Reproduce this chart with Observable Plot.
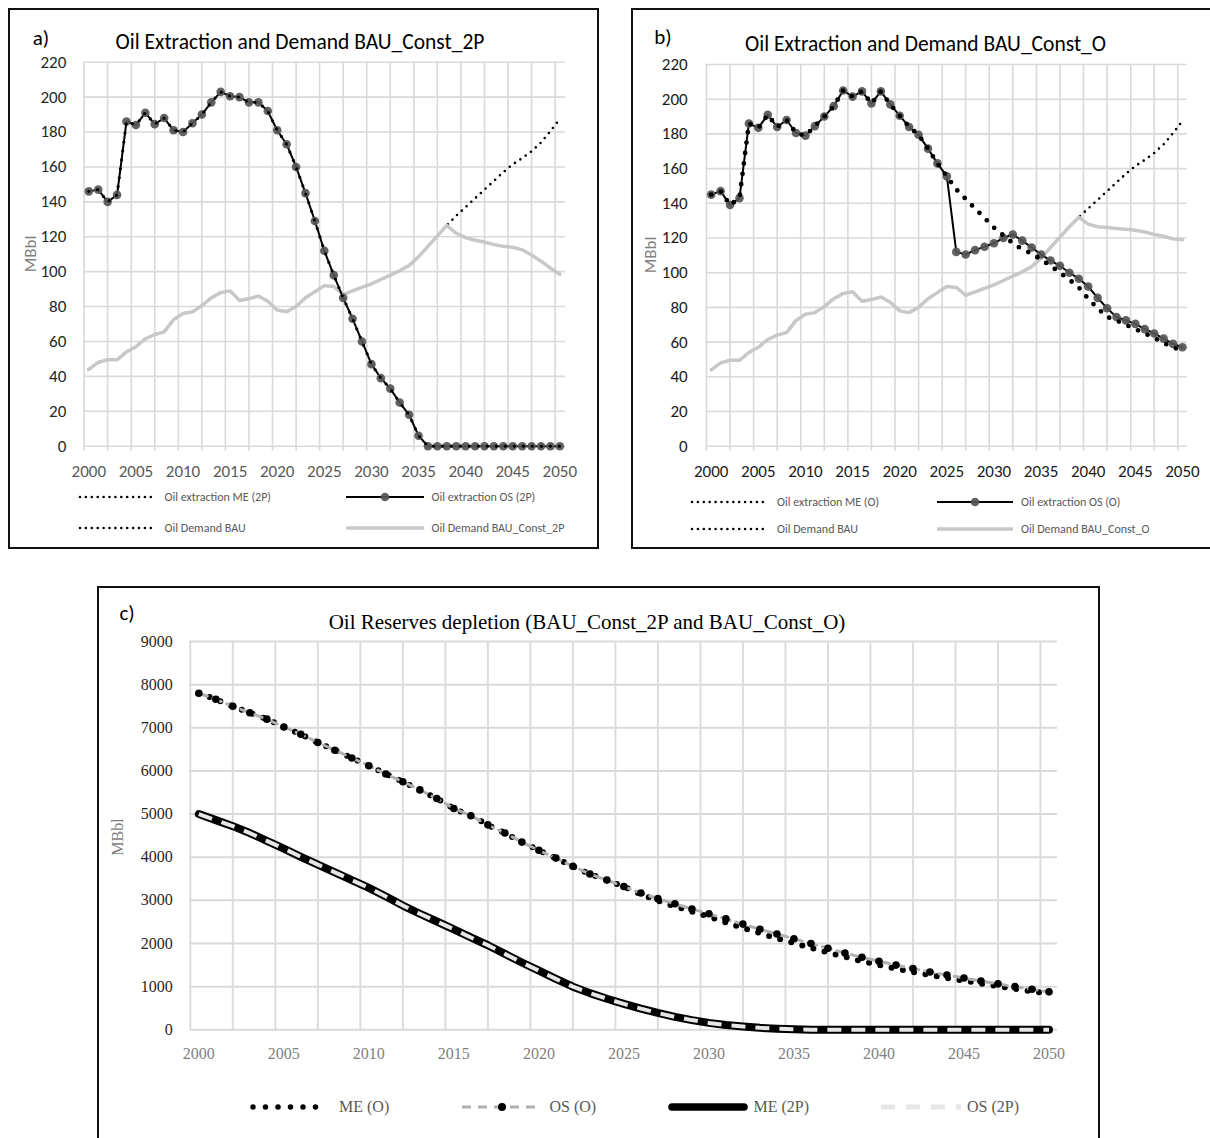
<!DOCTYPE html>
<html><head><meta charset="utf-8">
<script src="https://cdn.jsdelivr.net/npm/d3@7"></script>
<script src="https://cdn.jsdelivr.net/npm/@observablehq/plot@0.6"></script>
<style>
body{margin:0;background:#fff;}
#page{position:relative;width:1210px;height:1138px;overflow:hidden;background:#fff;}
.t{position:absolute;white-space:nowrap;line-height:1;}
.box{position:absolute;border:2px solid #111;box-sizing:border-box;pointer-events:none;}
</style></head><body><div id="page"></div>
<script>
// ---------------- DATA ----------------
const years = [2000,2001,2002,2003,2004,2005,2006,2007,2008,2009,2010,2011,2012,2013,2014,2015,2016,2017,2018,2019,2020,2021,2022,2023,2024,2025,2026,2027,2028,2029,2030,2031,2032,2033,2034,2035,2036,2037,2038,2039,2040,2041,2042,2043,2044,2045,2046,2047,2048,2049,2050];
const labelYears = [2000,2005,2010,2015,2020,2025,2030,2035,2040,2045,2050];

// panel a (2P)
const extractionME_2P = [146,147,140,144,186,184,191,184.5,188,181,180,185,190,197,203,200.5,200,197,197,192,181,173,160,145,129,112,98,85,73,60,47,39,33,25,18,6,0,0,0,0,0,0,0,0,0,0,0,0,0,0,0];
const extractionOS_2P = [146,147,140,144,186,184,191,184.5,188,181,180,185,190,197,203,200.5,200,197,197,192,181,173,160,145,129,112,98,85,73,60,47,39,33,25,18,6,0,0,0,0,0,0,0,0,0,0,0,0,0,0,0];
const demandBAU = [44,48,49.5,49.5,54,57,61.5,64,65.5,72.5,76,77,80.5,85,88,89,83.5,84.5,86,83,78,77,80,85,88.5,92,91.5,87,89,91,93,95.5,98,100.5,103.5,108.5,114.5,120.5,126.5,132,137,142,147,152,157,161.5,165,169,174,180.5,187.5];
const demandConst_2P = [44,48,49.5,49.5,54,57,61.5,64,65.5,72.5,76,77,80.5,85,88,89,83.5,84.5,86,83,78,77,80,85,88.5,92,91.5,87,89,91,93,95.5,98,100.5,103.5,108.5,114.5,120.5,126.5,122,119.5,118,117,115.5,114.5,114,112.5,109.5,106,102,98.5];

// panel b (O)
const extractionME_O = [145,147,139,143,186,183.5,191,184,188,180.5,179,184.5,190,196,205,201.5,204.5,197.5,204.5,197,190.5,184,179.5,171.5,163,155.5,148,142.5,137,131.5,126,121.5,117,113.5,111,107.5,104,100,96,91.5,85,79.5,74.5,72.5,70,67.5,65,62.5,59.5,57,55];
const extractionOS_O = [145,147,139,143,186,183.5,191,184,188,180.5,179,184.5,190,196,205,201.5,204.5,197.5,204.5,197,190.5,184,179.5,171.5,163,155.5,112,110.5,113,115,117,120,122,118.5,114.5,110.5,107,104,100,96.5,92,85.5,79.5,74.5,72.5,70.5,67.5,65,62,59,57];
const demandConst_O = [44,48,49.5,49.5,54,57,61.5,64,65.5,72.5,76,77,80.5,85,88,89,83.5,84.5,86,83,78,77,80,85,88.5,92,91.5,87,89,91,93,95.5,98,100.5,103.5,108.5,114.5,120.5,126.5,132,128,126.5,126,125.5,125,124.5,123.5,122,121,119.5,119];

// panel c reserves
const reservesME_O = [7800,7660,7500,7350,7200,7020,6850,6660,6480,6300,6120,5930,5750,5560,5360,5130,4960,4750,4560,4350,4160,3980,3790,3610,3470,3320,3140,2990,2860,2740,2620,2490,2360,2240,2120,2010,1900,1790,1690,1590,1500,1420,1340,1270,1200,1140,1070,1010,950,890,840];
const reservesOS_O = [7800,7660,7500,7350,7200,7020,6850,6660,6480,6300,6120,5930,5750,5560,5360,5130,4960,4750,4560,4350,4160,3980,3790,3610,3470,3320,3170,3040,2920,2800,2690,2570,2450,2330,2220,2110,2000,1890,1780,1680,1590,1500,1420,1340,1270,1200,1130,1065,1000,940,880];
const reservesME_2P = [5000,4860,4720,4560,4380,4200,4010,3830,3650,3470,3290,3090,2880,2690,2510,2330,2140,1960,1760,1560,1370,1180,1000,850,720,600,490,390,300,225,160,110,75,45,25,10,0,0,0,0,0,0,0,0,0,0,0,0,0,0,0];
const reservesOS_2P = [5000,4860,4720,4560,4380,4200,4010,3830,3650,3470,3290,3090,2880,2690,2510,2330,2140,1960,1760,1560,1370,1180,1000,850,720,600,490,390,300,225,160,110,75,45,25,10,0,0,0,0,0,0,0,0,0,0,0,0,0,0,0];

const yTicksAB = [0,20,40,60,80,100,120,140,160,180,200,220];
const yTicksC = [0,1000,2000,3000,4000,5000,6000,7000,8000,9000];
const gridYears = d3.range(1999.5, 2050, 2.5);

const SANS = "Carlito, Lato, 'Open Sans', sans-serif";
const SERIF = "'Liberation Serif', 'DejaVu Serif', serif";
const page = document.getElementById("page");

function place(el, left, top) {
  el.style.position = "absolute"; el.style.left = left + "px"; el.style.top = top + "px";
  page.appendChild(el);
}
function text(str, x, y, o = {}) {
  const d = document.createElement("div");
  d.className = "t";
  d.textContent = str;
  d.style.left = x + "px"; d.style.top = y + "px";
  d.style.fontFamily = o.family || SANS;
  d.style.fontSize = (o.size || 16) + "px";
  d.style.color = o.color || "#000";
  const tx = o.anchor === "start" ? "0" : "-50%";
  d.style.transform = `translate(${tx},-50%)`;
  if (o.rotate) { d.style.transform = `translate(-50%,-50%) rotate(${o.rotate}deg)`; }
  page.appendChild(d);
}
function swatch(svgInner, x, y, w, h) {
  const d = document.createElement("div");
  d.innerHTML = `<svg width="${w}" height="${h}" style="display:block">${svgInner}</svg>`;
  d.style.position = "absolute"; d.style.left = x + "px"; d.style.top = (y - h / 2) + "px";
  page.appendChild(d);
}
function box(l, t, r, b) {
  const d = document.createElement("div");
  d.className = "box";
  d.style.left = l + "px"; d.style.top = t + "px";
  d.style.width = (r - l) + "px"; d.style.height = (b - t) + "px";
  page.appendChild(d);
}

// ---------------- PANELS a & b ----------------
function extractionPanel(cfg) {
  const rows = years.map((yr, i) => ({year: yr, me: cfg.me[i], os: cfg.os[i], bau: demandBAU[i], cons: cfg.cons[i]}));
  const p = Plot.plot({
    width: cfg.width, height: cfg.height,
    marginLeft: cfg.mL, marginRight: cfg.mR, marginTop: cfg.mT, marginBottom: cfg.mB,
    style: {background: "transparent", fontFamily: SANS, overflow: "visible"},
    x: {domain: cfg.xDomain, label: null},
    y: {domain: [0, 220], label: null},
    marks: [
      Plot.gridY(yTicksAB, {stroke: "#d9d9d9", strokeOpacity: 1, strokeWidth: 1.6}),
      Plot.gridX(gridYears, {stroke: "#d9d9d9", strokeOpacity: 1, strokeWidth: 1.6}),
      Plot.axisX(gridYears, {tickSize: 5, tickFormat: () => "", stroke: "#d9d9d9", strokeWidth: 1.6, label: null}),
      Plot.axisX(labelYears, {tickSize: 0, tickPadding: 18.5, tickFormat: d => String(d), fill: cfg.xColor, fontSize: 17, label: null}),
      Plot.axisY(yTicksAB, {tickSize: 0, tickPadding: cfg.yPad, tickFormat: d => String(d), fill: cfg.yColor, fontSize: 17, label: null}),
      Plot.line(rows, {x: "year", y: "bau", stroke: "#000", strokeWidth: 2.6, strokeDasharray: "0 6.5", strokeLinecap: "round"}),
      Plot.line(rows, {x: "year", y: "cons", stroke: "#c8c8c8", strokeWidth: 3.5}),
      Plot.line(rows, {x: "year", y: "os", stroke: "#000", strokeWidth: 2}),
      Plot.dot(rows, {x: "year", y: "os", r: 4.3, fill: "#555", fillOpacity: 0.92, stroke: "none"}),
      Plot.line(rows, {x: "year", y: "me", stroke: "#000", strokeWidth: cfg.meW, strokeDasharray: cfg.meDash, strokeLinecap: "round"})
    ]
  });
  place(p, cfg.left, cfg.top);
}

extractionPanel({left: 0, top: 0, width: 600, height: 490, mL: 83.3, mR: 35, mT: 61.7, mB: 44.3,
  xDomain: [1999.47, 2050.6], me: extractionME_2P, os: extractionOS_2P, cons: demandConst_2P,
  xColor: "#595959", yColor: "#262626", yPad: 17.5, meW: 3.2, meDash: "0 9"});
extractionPanel({left: 620, top: 0, width: 590, height: 490, mL: 85.7, mR: 23.3, mT: 64, mB: 44.3,
  xDomain: [1999.47, 2050.5], me: extractionME_O, os: extractionOS_O, cons: demandConst_O,
  xColor: "#1a1a1a", yColor: "#1a1a1a", yPad: 18.5, meW: 4.8, meDash: "0 10.5"});

// ---------------- PANEL c ----------------
{
  const rows = years.map((yr, i) => ({year: yr, meO: reservesME_O[i], osO: reservesOS_O[i], me2P: reservesME_2P[i], os2P: reservesOS_2P[i]}));
  const p = Plot.plot({
    width: 1010, height: 500,
    marginLeft: 99.3, marginRight: 43, marginTop: 61, marginBottom: 50.7,
    style: {background: "transparent", fontFamily: SERIF, overflow: "visible"},
    x: {domain: [1999.47, 2050.5], label: null},
    y: {domain: [0, 9000], label: null},
    marks: [
      Plot.gridY(yTicksC, {stroke: "#d9d9d9", strokeOpacity: 1, strokeWidth: 2}),
      Plot.gridX(gridYears, {stroke: "#dcdcdc", strokeOpacity: 1, strokeWidth: 2}),
      Plot.axisX(labelYears, {tickSize: 0, tickPadding: 17.5, tickFormat: d => String(d), fill: "#7f7f7f", fontSize: 16, label: null}),
      Plot.axisY(yTicksC, {tickSize: 0, tickPadding: 17, tickFormat: d => String(d), fill: "#262626", fontSize: 16, label: null}),
      Plot.line(rows, {x: "year", y: "meO", stroke: "#000", strokeWidth: 6, strokeDasharray: "0 11.5", strokeLinecap: "round"}),
      Plot.line(rows, {x: "year", y: "osO", stroke: "#b0b0b0", strokeWidth: 3, strokeDasharray: "9 6"}),
      Plot.dot(rows, {x: "year", y: "osO", r: 3.8, fill: "#000", stroke: "none"}),
      Plot.line(rows, {x: "year", y: "me2P", stroke: "#000", strokeWidth: 8, strokeLinecap: "round"}),
      Plot.line(rows, {x: "year", y: "os2P", stroke: "#e6e6e6", strokeWidth: 4, strokeDasharray: "14 10", strokeLinecap: "butt"})
    ]
  });
  place(p, 90, 580);
}

// ---------------- TEXT ----------------
text("a)", 41, 38, {size: 21});
text("Oil Extraction and Demand BAU_Const_2P", 300, 43, {size: 21.5});
text("MBbl", 29.5, 254, {size: 17, color: "#7f7f7f", rotate: -90});
text("b)", 663, 37, {size: 21});
text("Oil Extraction and Demand BAU_Const_O", 925.5, 45, {size: 21.5});
text("MBbl", 649.5, 255, {size: 17, color: "#7f7f7f", rotate: -90});
text("c)", 127, 613, {size: 21});
text("Oil Reserves depletion (BAU_Const_2P and BAU_Const_O)", 587, 622, {size: 21, family: SERIF});
text("MBbl", 118, 837, {size: 16, color: "#7f7f7f", rotate: -90, family: SERIF});

// legends a & b
const dotted = (w) => `<line x1="2" y1="5" x2="${w - 2}" y2="5" stroke="#000" stroke-width="2.6" stroke-dasharray="0 5.9" stroke-linecap="round"/>`;
const osSw = (w) => `<line x1="0" y1="5" x2="${w}" y2="5" stroke="#000" stroke-width="2"/><circle cx="${w / 2}" cy="5" r="4.3" fill="#555" fill-opacity="0.92"/>`;
const graySw = (w) => `<line x1="0" y1="5" x2="${w}" y2="5" stroke="#c8c8c8" stroke-width="3.5"/>`;
const lg = {size: 12, color: "#595959", anchor: "start"};
swatch(dotted(76), 78, 497.3, 76, 10); text("Oil extraction ME (2P)", 164.6, 497.3, lg);
swatch(osSw(78), 346, 497.3, 78, 10); text("Oil extraction OS (2P)", 431.5, 497.3, lg);
swatch(dotted(76), 78, 527.7, 76, 10); text("Oil Demand BAU", 164.6, 527.7, lg);
swatch(graySw(78), 346, 527.7, 78, 10); text("Oil Demand BAU_Const_2P", 431.5, 527.7, lg);

swatch(dotted(77), 690, 501.7, 77, 10); text("Oil extraction ME (O)", 777, 501.7, lg);
swatch(osSw(76), 937, 501.7, 76, 10); text("Oil extraction OS (O)", 1021, 501.7, lg);
swatch(dotted(77), 690, 529.3, 77, 10); text("Oil Demand BAU", 777, 529.3, lg);
swatch(graySw(76), 937, 529.3, 76, 10); text("Oil Demand BAU_Const_O", 1021, 529.3, lg);

// legend c
const lgc = {size: 16, color: "#595959", anchor: "start", family: SERIF};
swatch(`<line x1="3" y1="6" x2="78" y2="6" stroke="#000" stroke-width="5.5" stroke-dasharray="0 12.5" stroke-linecap="round"/>`, 250, 1107.3, 82, 12);
text("ME (O)", 339, 1107.3, lgc);
swatch(`<line x1="0" y1="6" x2="78" y2="6" stroke="#b0b0b0" stroke-width="3" stroke-dasharray="9 7"/><circle cx="40" cy="6" r="4" fill="#000"/>`, 462, 1107.3, 78, 12);
text("OS (O)", 549.5, 1107.3, lgc);
swatch(`<line x1="4" y1="6" x2="76" y2="6" stroke="#000" stroke-width="7.5" stroke-linecap="round"/>`, 668, 1107.3, 80, 12);
text("ME (2P)", 753.5, 1107.3, lgc);
swatch(`<line x1="0" y1="6" x2="80" y2="6" stroke="#e6e6e6" stroke-width="5" stroke-dasharray="14 11"/>`, 881, 1107.3, 80, 12);
text("OS (2P)", 967, 1107.3, lgc);

// frames
box(8, 8, 599, 549);
box(631, 8, 1212, 549);
box(97, 586, 1100, 1200);
</script></body></html>
